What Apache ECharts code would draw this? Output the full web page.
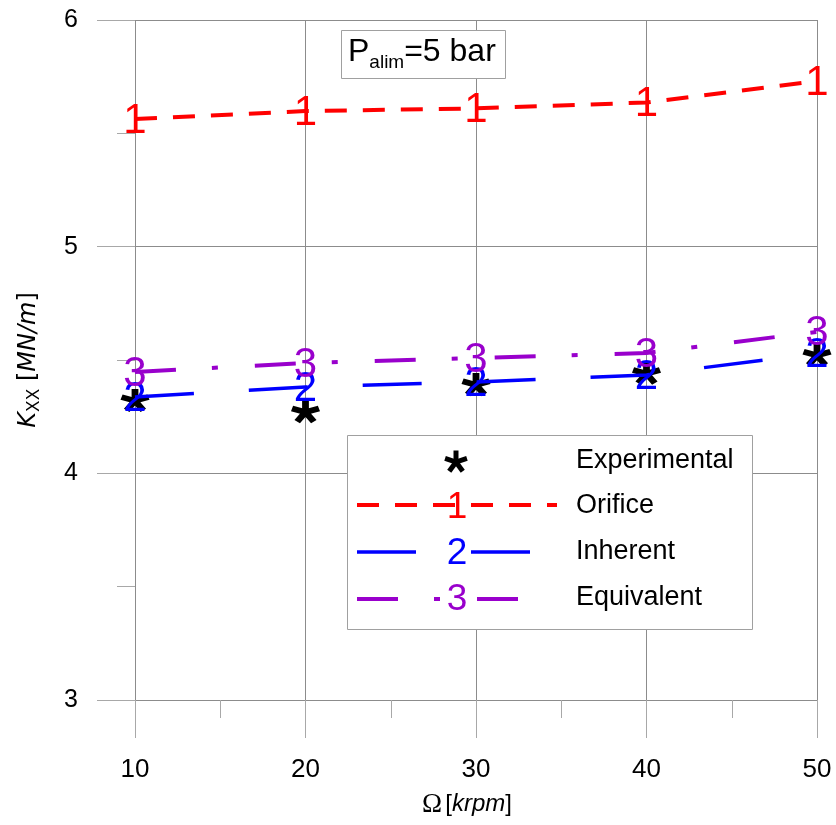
<!DOCTYPE html>
<html>
<head>
<meta charset="utf-8">
<title>Kxx vs speed</title>
<script src="https://cdn.jsdelivr.net/npm/echarts@6/dist/echarts.min.js"></script>
<style>
  html, body { margin: 0; padding: 0; background: #ffffff; }
  #chart { width: 836px; height: 825px; }
</style>
</head>
<body>
<div id="chart"></div>
<script>
// Rotor speed [krpm]
const speeds = [10, 20, 30, 40, 50];
// Direct stiffness K_XX [MN/m]
const experimental = [4.32, 4.27, 4.39, 4.44, 4.52];
const orifice = [5.563, 5.598, 5.610, 5.636, 5.731];
const inherent = [4.337, 4.381, 4.403, 4.434, 4.530];
const equivalent = [4.447, 4.487, 4.509, 4.531, 4.624];

const seriesNames = ['Experimental', 'Orifice', 'Inherent', 'Equivalent'];
const markerGlyphs = ['1', '2', '3'];
const supplyLabel = { base: 'P', sub: 'alim', rest: '=5 bar' };

const RED = '#ff0000';
const BLUE = '#0000ff';
const PURPLE = '#9900cc';
const FONT = "'Liberation Sans', Arial, sans-serif";

// Arms of a five-armed asterisk, as polygons around a hub at (0, 0)
function asteriskArms(L, w) {
  const angles = [-90, -18, 54, 126, 198];
  return angles.map(function (a) {
    const r = a * Math.PI / 180;
    const dx = Math.cos(r), dy = Math.sin(r);
    const nx = -dy * w / 2, ny = dx * w / 2;
    const back = w * 0.2;
    return [
      [nx - dx * back, ny - dy * back],
      [nx + dx * L, ny + dy * L],
      [-nx + dx * L, -ny + dy * L],
      [-nx - dx * back, -ny - dy * back]
    ];
  });
}

// Same asterisk as an svg path, hub centred in its bounding box
function asteriskData() {
  const c = 60;
  let d = '';
  asteriskArms(50, 24).forEach(function (pts) {
    d += 'M' + pts.map(function (p) {
      return (p[0] + c).toFixed(2) + ' ' + (p[1] + c).toFixed(2);
    }).join(' L') + ' Z ';
  });
  d += 'M60 5 L60.01 5 L60 5.01 Z M60 115 L60.01 115 L60 115.01 Z';
  return d;
}
const ASTERISK = asteriskData();

function pairs(ys) {
  return speeds.map(function (x, i) { return [x, ys[i]]; });
}

function modelSeries(name, ys, color, width, dash, glyph) {
  return {
    name: name,
    type: 'line',
    data: pairs(ys),
    clip: false,
    silent: true,
    showSymbol: true,
    symbol: 'circle',
    symbolSize: 1,
    itemStyle: { color: 'rgba(0,0,0,0)', borderWidth: 0 },
    lineStyle: { color: color, width: width, type: dash, cap: 'butt' },
    label: {
      show: true,
      position: 'inside',
      offset: [0, 2],
      formatter: glyph,
      color: color,
      fontFamily: FONT,
      fontSize: 42,
      textBorderWidth: 0
    },
    emphasis: { disabled: true },
    z: 3
  };
}

// Legend asterisk built from polygons
function legendAsterisk(cx, cy) {
  return {
    type: 'group', z: 51, x: cx, y: cy,
    children: asteriskArms(11.5, 5).map(function (pts) {
      return { type: 'polygon', z: 51, shape: { points: pts }, style: { fill: '#000' } };
    })
  };
}

const chart = echarts.init(document.getElementById('chart'), null, { renderer: 'canvas' });

const gridColor = '#8c8c8c';
const tickColor = '#a8a8a8';

const option = {
  animation: false,
  backgroundColor: '#ffffff',
  grid: { left: 135, right: 19, top: 20, bottom: 125, containLabel: false, outerBoundsMode: 'none' },
  xAxis: {
    type: 'value',
    min: 10,
    max: 50,
    interval: 10,
    axisLine: { show: false },
    axisTick: { show: true, length: 38, lineStyle: { color: tickColor } },
    minorTick: { show: true, splitNumber: 2, length: 18, lineStyle: { color: tickColor } },
    splitLine: { show: true, lineStyle: { color: gridColor, width: 1 } },
    axisLabel: { color: '#000', fontFamily: FONT, fontSize: 26, margin: 57 },
    name: '{o|Ω} {n|[}{i|krpm}{n|]}',
    nameLocation: 'middle',
    nameGap: 91,
    nameTextStyle: {
      padding: [0, 18, 0, 0],
      rich: {
        o: { fontFamily: "'Liberation Serif', 'Times New Roman', serif", fontSize: 27, color: '#000' },
        n: { fontFamily: FONT, fontSize: 24, color: '#000' },
        i: { fontFamily: FONT, fontSize: 24, fontStyle: 'italic', color: '#000' }
      }
    }
  },
  yAxis: {
    type: 'value',
    min: 3,
    max: 6,
    interval: 1,
    axisLine: { show: false },
    axisTick: { show: true, length: 38, lineStyle: { color: tickColor } },
    minorTick: { show: true, splitNumber: 2, length: 18, lineStyle: { color: tickColor } },
    splitLine: { show: true, lineStyle: { color: gridColor, width: 1 } },
    axisLabel: { color: '#000', fontFamily: FONT, fontSize: 25, margin: 57 },
    name: '{k|K}{s|XX}{n| [}{i|MN/m}{n|]}',
    nameLocation: 'middle',
    nameRotate: 90,
    nameGap: 92,
    nameTextStyle: {
      rich: {
        k: { fontFamily: "'DejaVu Sans', sans-serif", fontSize: 24, fontStyle: 'italic', lineHeight: 28, color: '#000' },
        s: { fontFamily: "'DejaVu Sans', sans-serif", fontSize: 17, lineHeight: 20, verticalAlign: 'bottom', color: '#000' },
        n: { fontFamily: "'DejaVu Sans', sans-serif", fontSize: 24, lineHeight: 28, color: '#000' },
        i: { fontFamily: "'DejaVu Sans', sans-serif", fontSize: 24, fontStyle: 'italic', lineHeight: 28, color: '#000' }
      }
    }
  },
  series: [
    {
      name: seriesNames[0],
      type: 'scatter',
      data: pairs(experimental),
      clip: false,
      silent: true,
      symbol: 'path://' + ASTERISK,
      symbolSize: [29, 26],
      itemStyle: { color: '#000', borderWidth: 0, opacity: 1 },
      emphasis: { disabled: true },
      z: 2
    },
    modelSeries(seriesNames[1], orifice, RED, 4, [22, 16], markerGlyphs[0]),
    modelSeries(seriesNames[2], inherent, BLUE, 3.5, [59, 55], markerGlyphs[1]),
    modelSeries(seriesNames[3], equivalent, PURPLE, 4, [41, 36, 6, 37], markerGlyphs[2])
  ],
  graphic: [
    // supply pressure note
    {
      type: 'rect', z: 50,
      shape: { x: 341.5, y: 30.5, width: 164, height: 48 },
      style: { fill: '#fff', stroke: '#a0a0a0', lineWidth: 1 }
    },
    {
      type: 'text', z: 51,
      style: {
        x: 348, y: 52,
        text: '{a|' + supplyLabel.base + '}{s|' + supplyLabel.sub + '}{a|' + supplyLabel.rest + '}',
        verticalAlign: 'middle',
        rich: {
          a: { fontFamily: FONT, fontSize: 32, lineHeight: 40, fill: '#000' },
          s: { fontFamily: FONT, fontSize: 19, lineHeight: 20, verticalAlign: 'bottom', fill: '#000' }
        }
      }
    },
    // legend box
    {
      type: 'rect', z: 50,
      shape: { x: 347.5, y: 435.5, width: 405, height: 194 },
      style: { fill: '#fff', stroke: '#a0a0a0', lineWidth: 1 }
    },
    legendAsterisk(456, 462),
    {
      type: 'line', z: 51,
      shape: { x1: 357, y1: 505, x2: 557, y2: 505 },
      style: { stroke: RED, lineWidth: 4, lineDash: [22, 16] }
    },
    {
      type: 'line', z: 51,
      shape: { x1: 357, y1: 552, x2: 533, y2: 552 },
      style: { stroke: BLUE, lineWidth: 3.5, lineDash: [59, 55] }
    },
    {
      type: 'line', z: 51,
      shape: { x1: 357, y1: 599, x2: 520, y2: 599 },
      style: { stroke: PURPLE, lineWidth: 4, lineDash: [41, 36, 6, 37] }
    },
    {
      type: 'text', z: 52,
      style: { x: 457, y: 508, text: markerGlyphs[0], fill: RED, font: '37px ' + FONT, align: 'center', verticalAlign: 'middle' }
    },
    {
      type: 'text', z: 52,
      style: { x: 457, y: 554, text: markerGlyphs[1], fill: BLUE, font: '37px ' + FONT, align: 'center', verticalAlign: 'middle' }
    },
    {
      type: 'text', z: 52,
      style: { x: 457, y: 600, text: markerGlyphs[2], fill: PURPLE, font: '37px ' + FONT, align: 'center', verticalAlign: 'middle' }
    },
    {
      type: 'text', z: 52,
      style: { x: 576, y: 461, text: seriesNames[0], fill: '#000', font: '27px ' + FONT, verticalAlign: 'middle' }
    },
    {
      type: 'text', z: 52,
      style: { x: 576, y: 506, text: seriesNames[1], fill: '#000', font: '27px ' + FONT, verticalAlign: 'middle' }
    },
    {
      type: 'text', z: 52,
      style: { x: 576, y: 552, text: seriesNames[2], fill: '#000', font: '27px ' + FONT, verticalAlign: 'middle' }
    },
    {
      type: 'text', z: 52,
      style: { x: 576, y: 598, text: seriesNames[3], fill: '#000', font: '27px ' + FONT, verticalAlign: 'middle' }
    }
  ]
};

chart.setOption(option);
</script>
</body>
</html>
